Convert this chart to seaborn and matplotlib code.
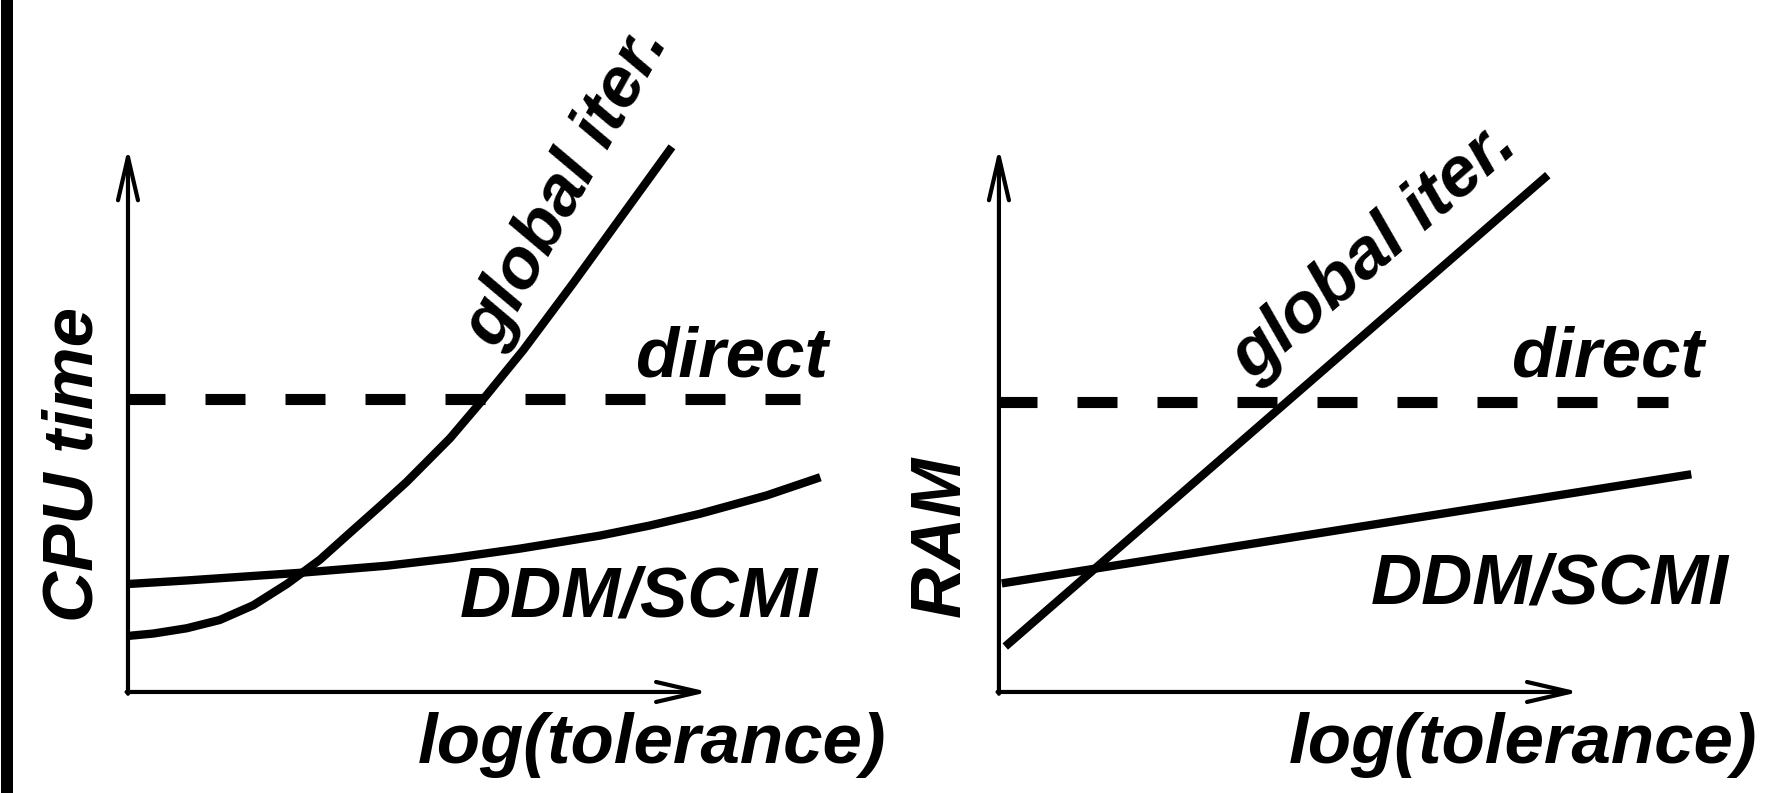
import pandas as pd
import matplotlib
matplotlib.use("Agg")
import matplotlib.pyplot as plt
import seaborn as sns

# schematic values (x = log tolerance, y = cost)
cpu_ddm_x = [0.0, 0.84, 2.46, 3.70, 4.64, 5.60, 6.74, 7.45, 8.17, 9.12, 9.89]
cpu_ddm_y = [1.83, 1.89, 2.02, 2.14, 2.27, 2.43, 2.65, 2.82, 3.02, 3.33, 3.64]
cpu_glob_x = [0.0, 0.36, 0.84, 1.31, 1.79, 2.27, 2.74, 3.22, 3.60, 3.98,
              4.60, 5.08, 5.65, 6.36, 7.08, 7.77]
cpu_glob_y = [0.95, 0.99, 1.08, 1.22, 1.47, 1.83, 2.24, 2.75, 3.15, 3.56,
              4.30, 4.97, 5.80, 6.93, 8.11, 9.24]
cpu_direct_x = [-0.04, 9.6]
cpu_direct_y = [4.96, 4.96]

ram_ddm_x = [0.04, 9.89]
ram_ddm_y = [1.84, 3.69]
ram_glob_x = [0.09, 7.84]
ram_glob_y = [0.77, 8.76]
ram_direct_x = [-0.03, 9.56]
ram_direct_y = [4.92, 4.92]

sns.set_theme(style="white")
plt.rcParams['font.family'] = ['Liberation Sans', 'DejaVu Sans']

fig = plt.figure(figsize=(17.8, 7.93), dpi=100)
ax1 = fig.add_axes([0.0719, 0.1274, 0.3933, 0.744])
ax2 = fig.add_axes([0.5612, 0.1274, 0.3933, 0.744])

# black bar on the left edge
fig.add_artist(plt.Rectangle((0.0006, 0.0), 0.0067, 1.0, transform=fig.transFigure,
                             color='black', lw=0))

txt = dict(fontsize=51, fontweight='bold', fontstyle='italic', color='black',
           ha='center', va='center')


def panel(ax, ddm_x, ddm_y, glob_x, glob_y, dir_x, dir_y, ylab, ylab_pos,
          dir_pos, ddm_pos, glob_pos, glob_rot):
    df_ddm = pd.DataFrame({'x': ddm_x, 'y': ddm_y})
    df_glob = pd.DataFrame({'x': glob_x, 'y': glob_y})
    df_dir = pd.DataFrame({'x': dir_x, 'y': dir_y})
    sns.lineplot(data=df_ddm, x='x', y='y', ax=ax, color='black', lw=6,
                 sort=False, solid_capstyle='butt', solid_joinstyle='round')
    sns.lineplot(data=df_glob, x='x', y='y', ax=ax, color='black', lw=6,
                 sort=False, solid_capstyle='butt', solid_joinstyle='round')
    sns.lineplot(data=df_dir, x='x', y='y', ax=ax, color='black', lw=8,
                 sort=False)
    ax.lines[-1].set_dashes((3.6, 3.6))
    ax.lines[-1].set_dash_capstyle('butt')

    ax.set_xlim(0, 10)
    ax.set_ylim(0, 10)
    ax.axis('off')

    # axes with open arrow heads
    arr = dict(arrowstyle='->,head_length=1.55,head_width=0.36',
               color='black', lw=3, mutation_scale=20, shrinkA=0, shrinkB=0)
    ax.annotate('', xy=(8.29, 0), xytext=(-0.02, 0), arrowprops=arr,
                annotation_clip=False)
    ax.annotate('', xy=(0, 9.22), xytext=(0, -0.03), arrowprops=arr,
                annotation_clip=False)

    ax.text(ylab_pos[0], ylab_pos[1], ylab, rotation=90, clip_on=False, **txt)
    ax.text(7.48, -0.9, 'log(tolerance)', clip_on=False, **txt)
    ax.text(dir_pos[0], dir_pos[1], 'direct', clip_on=False, **txt)
    ax.text(ddm_pos[0], ddm_pos[1], 'DDM/SCMI', clip_on=False, **txt)
    ax.text(glob_pos[0], glob_pos[1], 'global iter.', rotation=glob_rot,
            rotation_mode='anchor', clip_on=False, **txt)


panel(ax1, cpu_ddm_x, cpu_ddm_y, cpu_glob_x, cpu_glob_y, cpu_direct_x,
      cpu_direct_y, 'CPU time', (-0.77, 3.85), (8.63, 5.66), (7.3, 1.58),
      (6.27, 8.56), 61)
panel(ax2, ram_ddm_x, ram_ddm_y, ram_glob_x, ram_glob_y, ram_direct_x,
      ram_direct_y, 'RAM', (-0.81, 2.63), (8.7, 5.66), (7.87, 1.81),
      (5.37, 7.46), 41)

fig.savefig('out.png', dpi=100)
